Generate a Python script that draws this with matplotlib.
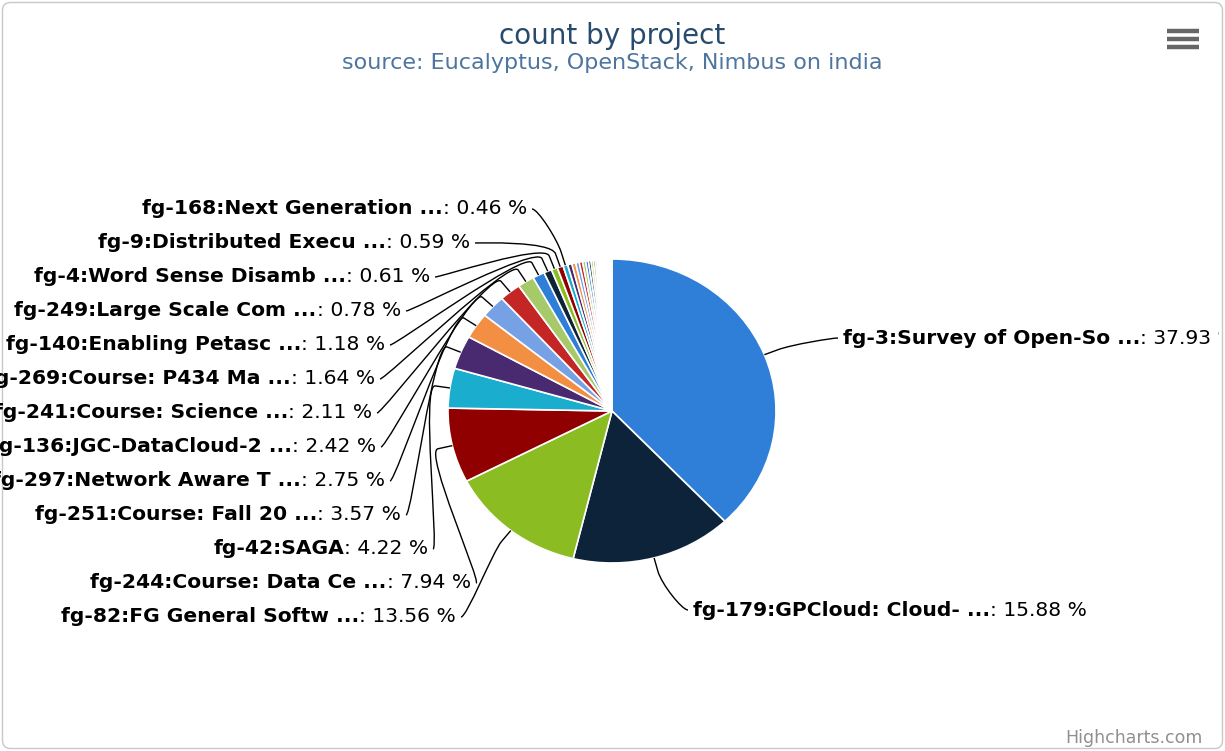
import numpy as np
import matplotlib
matplotlib.use('Agg')
import matplotlib.pyplot as plt
from matplotlib.path import Path
from matplotlib.patches import PathPatch, FancyBboxPatch
from matplotlib.transforms import Bbox

# ---- data (percent share of count per project) ----
projects = ['fg-3:Survey of Open-So ...', 'fg-179:GPCloud: Cloud- ...', 'fg-82:FG General Softw ...',
            'fg-244:Course: Data Ce ...', 'fg-42:SAGA', 'fg-251:Course: Fall 20 ...',
            'fg-297:Network Aware T ...', 'fg-136:JGC-DataCloud-2 ...', 'fg-241:Course: Science ...',
            'fg-269:Course: P434 Ma ...', 'fg-140:Enabling Petasc ...', 'fg-249:Large Scale Com ...',
            'fg-4:Word Sense Disamb ...', 'fg-9:Distributed Execu ...', 'fg-168:Next Generation ...']
shares = [37.93, 15.88, 13.56, 7.94, 4.22, 3.57, 2.75, 2.42, 2.11, 1.64, 1.18, 0.78, 0.61, 0.59, 0.46]
# many tiny projects without visible labels (estimated)
tiny = [0.42, 0.38, 0.35, 0.33, 0.30, 0.28, 0.25, 0.22, 0.20, 0.18, 0.16, 0.15, 0.13, 0.12,
        0.11, 0.10, 0.09, 0.08, 0.07, 0.06, 0.05, 0.04, 0.04, 0.03, 0.03, 0.03, 0.02, 0.02,
        0.02, 0.02, 0.02, 0.01, 0.01, 0.01, 0.01, 0.01, 0.01]

PAL = ['#2f7ed8', '#0d233a', '#8bbc21', '#910000', '#1aadce',
       '#492970', '#f28f43', '#77a1e5', '#c42525', '#a6c96a']

# label layout (pixels): side, x anchor, y centre
LAYOUT = {0: ('L', 843, 338), 1: ('L', 693, 610), 2: ('R', 456, 617), 3: ('R', 471, 583),
          4: ('R', 428, 549), 5: ('R', 401, 515), 6: ('R', 385, 481), 7: ('R', 376, 447),
          8: ('R', 372, 413), 9: ('R', 375, 379), 10: ('R', 385, 345), 11: ('R', 401, 311),
          12: ('R', 430, 277), 13: ('R', 470, 243), 14: ('R', 527, 209)}

W, H = 1225, 751
CX, CY, RX, RY = 612, 411, 164, 152

fig = plt.figure(figsize=(W/100, H/100), dpi=100)
axp = fig.add_axes([(CX-RX)/W, 1-(CY+RY)/H, 2*RX/W, 2*RY/H])
vals = shares + tiny
cols = [PAL[i % len(PAL)] for i in range(len(vals))]
axp.pie(vals, colors=cols, startangle=90, counterclock=False, radius=1,
        wedgeprops=dict(edgecolor='white', linewidth=1.2))
axp.set_aspect('auto'); axp.set_xlim(-1, 1); axp.set_ylim(-1, 1); axp.axis('off')

ax = fig.add_axes([0, 0, 1, 1])
ax.set_xlim(0, W); ax.set_ylim(H, 0); ax.axis('off'); ax.patch.set_alpha(0)

ax.add_patch(FancyBboxPatch((2.5, 2.5), W-5, H-5, boxstyle='round,pad=0,rounding_size=8',
                            fc='none', ec='#c8c8c8', lw=1.0))

def to_px(x, y):
    d = axp.transData.transform((x, y))
    return ax.transData.inverted().transform(d)

# the reference clips the first label at the chart's right edge
clip = Bbox.from_extents(0, 0, 1219, H)
total = sum(vals)
cum = 0.0
FS = 14.6
for i, v in enumerate(shares):
    mid = (cum + v/2) / total * 2*np.pi
    cum += v
    ang = np.pi/2 - mid
    base = to_px(np.cos(ang), np.sin(ang))
    brk = to_px(np.cos(ang)*1.09, np.sin(ang)*1.09)
    side, lx, ly = LAYOUT[i]
    pct = ': %.2f %%' % v
    if side == 'R':
        tn = ax.text(lx, ly, pct, ha='right', va='center', fontsize=FS, color='#000000')
        ax.annotate(projects[i], xy=(0, 0), xycoords=tn, ha='right', va='bottom',
                    fontsize=FS, fontweight='bold', color='#000000')
        x0 = lx + 5; c1 = (lx + 11, ly)
    else:
        tb = ax.text(lx, ly, projects[i], ha='left', va='center', fontsize=FS,
                     fontweight='bold', color='#000000', clip_on=True)
        tb.set_clip_box(clip)
        tn = ax.annotate(pct, xy=(1, 0), xycoords=tb, ha='left', va='bottom',
                         fontsize=FS, color='#000000', annotation_clip=False)
        tn.set_clip_on(True); tn.set_clip_box(clip)
        x0 = lx - 5; c1 = (lx - 11, ly)
    c2 = 2*brk - base
    verts = [(x0, ly), c1, tuple(c2), tuple(brk), tuple(base)]
    codes = [Path.MOVETO, Path.CURVE4, Path.CURVE4, Path.CURVE4, Path.LINETO]
    ax.add_patch(PathPatch(Path(verts, codes), fc='none', ec='#000000', lw=1.0))

ax.text(W/2, 36, 'count by project', ha='center', va='center', fontsize=20, color='#274b6d')
ax.text(W/2, 63, 'source: Eucalyptus, OpenStack, Nimbus on india', ha='center', va='center',
        fontsize=16, color='#4d759e')
ax.text(1203, 738, 'Highcharts.com', ha='right', va='center', fontsize=12.5, color='#909090')
for yy in (30.5, 38.5, 46.5):
    ax.plot([1167, 1199], [yy, yy], color='#666666', lw=3.2, solid_capstyle='butt')

fig.savefig('out.png', dpi=100, facecolor='white')
